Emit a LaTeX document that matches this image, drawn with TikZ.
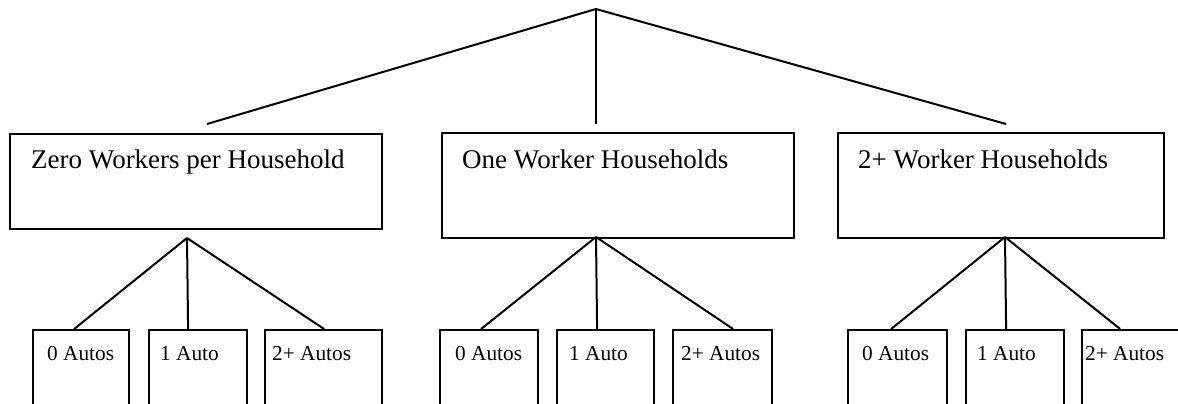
\documentclass[tikz,border=0pt]{standalone}
\usepackage{fontspec}
\setmainfont{Liberation Serif}
\begin{document}
\begin{tikzpicture}[x=1pt,y=-1pt,
  box/.style={draw, line width=2.2pt, rectangle, anchor=north west, inner sep=0pt},
  carbox/.style={box, minimum height=101pt},
  hdr/.style={anchor=base west, inner sep=0pt, font=\fontsize{27}{30}\selectfont},
  lbl/.style={anchor=base west, inner sep=0pt, font=\fontsize{21.3}{24}\selectfont},
  conn/.style={draw, line width=2pt}]
\useasboundingbox (0,0) rectangle (1178,404);
\clip (0,0) rectangle (1178,404);
% top level boxes
\node[box, minimum width=372pt, minimum height=95pt] (b1) at (9,133) {};
\node[box, minimum width=352pt, minimum height=105pt] (b2) at (441,132) {};
\node[box, minimum width=326pt, minimum height=105pt] (b3) at (837,132) {};
\node[hdr] (t1) at (31,168) {Zero Workers per Household};
\node[hdr] (t2) at (462,168) {One Worker Households};
\node[hdr] (t3) at (858,168) {2+ Worker Households};
% bottom boxes
\node[carbox, minimum width=96pt]  (c11) at (32,329) {};
\node[carbox, minimum width=98pt]  (c12) at (148,329) {};
\node[carbox, minimum width=117pt] (c13) at (264,329) {};
\node[carbox, minimum width=98pt]  (c21) at (439,329) {};
\node[carbox, minimum width=97pt]  (c22) at (556,329) {};
\node[carbox, minimum width=99pt]  (c23) at (672,329) {};
\node[carbox, minimum width=99pt]  (c31) at (847,329) {};
\node[carbox, minimum width=98pt]  (c32) at (965,329) {};
\node[carbox, minimum width=99pt]  (c33) at (1081,329) {};
\node[lbl] (l11) at (47,360) {0 Autos};
\node[lbl] (l12) at (160,360) {1 Auto};
\node[lbl] (l13) at (272,360) {2+ Autos};
\node[lbl] (l21) at (455,360) {0 Autos};
\node[lbl] (l22) at (569,360) {1 Auto};
\node[lbl] (l23) at (681,360) {2+ Autos};
\node[lbl] (l31) at (862,360) {0 Autos};
\node[lbl] (l32) at (977,360) {1 Auto};
\node[lbl] (l33) at (1085,360) {2+ Autos};
% connector points
\coordinate (top) at (596,9);
\coordinate (e1) at (207,124);
\coordinate (e2) at (596,124);
\coordinate (e3) at (1006,124);
\coordinate (a1) at (187,238);
\coordinate (a2) at (596,237);
\coordinate (a3) at (1005,237);
% connectors
\draw[conn] (top) -- (e1);
\draw[conn] (top) -- (e2);
\draw[conn] (top) -- (e3);
\draw[conn] (a1) -- ([xshift=-7pt]c11.north);
\draw[conn] (a1) -- ([xshift=-10pt]c12.north);
\draw[conn] (a1) -- ([xshift=0.5pt]c13.north);
\draw[conn] (a2) -- ([xshift=-8pt]c21.north);
\draw[conn] (a2) -- ([xshift=-8.5pt]c22.north);
\draw[conn] (a2) -- ([xshift=10.5pt]c23.north);
\draw[conn] (a3) -- ([xshift=-6.5pt]c31.north);
\draw[conn] (a3) -- ([xshift=-9pt]c32.north);
\draw[conn] (a3) -- ([xshift=-11.5pt]c33.north);
\end{tikzpicture}
\end{document}
